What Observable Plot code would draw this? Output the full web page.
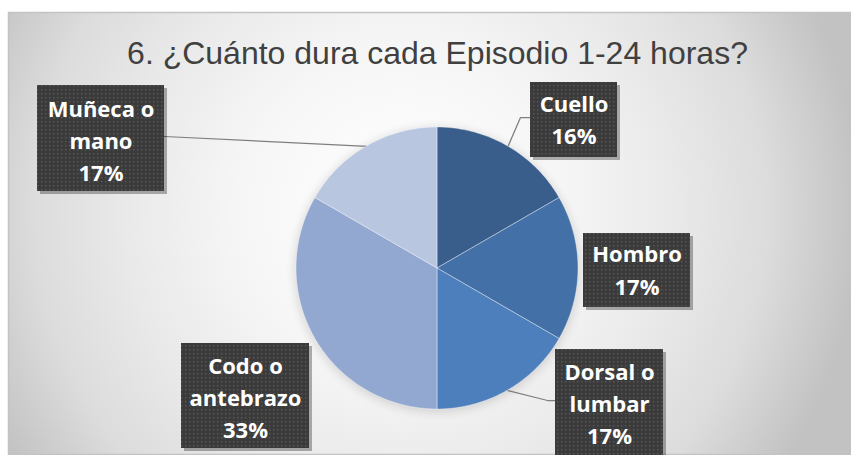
<!DOCTYPE html>
<html>
<head>
<meta charset="utf-8">
<script src="https://cdn.jsdelivr.net/npm/d3@7"></script>
<script src="https://cdn.jsdelivr.net/npm/@observablehq/plot@0.6"></script>
<style>
  html, body { margin: 0; padding: 0; background: #ffffff; }
  #chart svg { display: block; }
</style>
</head>
<body>
<div id="chart"></div>
<script>
// ---------- data ----------
const title = "6. ¿Cuánto dura cada Episodio 1-24 horas?";
const categories = ["Cuello", "Hombro", "Dorsal o lumbar", "Codo o antebrazo", "Muñeca o mano"];
const responses = [1, 1, 1, 2, 1];               // slice sizes (equal sixths, elbow = two sixths)
const percentLabels = ["16%", "17%", "17%", "33%", "17%"];
const labelLines = [["Cuello"], ["Hombro"], ["Dorsal o", "lumbar"], ["Codo o", "antebrazo"], ["Muñeca o", "mano"]];

// ---------- styles ----------
const sliceColors = ["#3A5E8C", "#4371A7", "#4C7FBC", "#93A8D0", "#B9C6E0"];

// ---------- layout (pixels) ----------
const W = 851, H = 455, CX = 437, CY = 268, R = 141;
const labelLayout = [
  {x1: 530, x2: 617, y1: 82,  y2: 157, ty: 117, leader: [[520, 117], [530, 117]]},
  {x1: 583, x2: 690, y1: 233, y2: 307, ty: 267.5, leader: null},
  {x1: 555, x2: 663, y1: 349, y2: 460, ty: 401, leader: [[547, 400], [555, 400]]},
  {x1: 181, x2: 309, y1: 343, y2: 448, ty: 395, leader: null},
  {x1: 37,  x2: 164, y1: 85,  y2: 191, ty: 138, leader: [[164, 136]]}
];
const ux = px => (px - CX) / R;
const uy = py => (CY - py) / R;

// ---------- derived marks data ----------
const rows = categories.map((c, i) => ({cat: c, value: responses[i], color: sliceColors[i]}));
const arcs = d3.pie().sort(null).value(d => d.value)(rows);

const slicePolys = [];
const leaderPts = [];
arcs.forEach((a, i) => {
  const cat = a.data.cat;
  const pts = [[0, 0]];
  const n = Math.max(2, Math.ceil((a.endAngle - a.startAngle) / (Math.PI / 180)));
  for (let k = 0; k <= n; k++) {
    const t = a.startAngle + (a.endAngle - a.startAngle) * k / n;
    pts.push([Math.sin(t), Math.cos(t)]);
  }
  slicePolys.push({cat, color: a.data.color, pts});
  const L = labelLayout[i];
  if (L.leader) {
    const m = (a.startAngle + a.endAngle) / 2;
    leaderPts.push({cat, x: Math.sin(m), y: Math.cos(m)});
    L.leader.forEach(([px, py]) => leaderPts.push({cat, x: ux(px), y: uy(py)}));
  }
});

const boxRows = categories.map((c, i) => {
  const L = labelLayout[i];
  return {
    cat: c,
    x1: ux(L.x1), x2: ux(L.x2), y1: uy(L.y1), y2: uy(L.y2),
    sx1: ux(L.x1 + 3), sx2: ux(L.x2 + 3), sy1: uy(L.y1 + 3), sy2: uy(L.y2 + 3),
    tx: ux((L.x1 + L.x2) / 2), ty: uy(L.ty),
    text: labelLines[i].concat([percentLabels[i]]).join("\n")
  };
});

// pie slices drawn through the plot's x / y scales
function pieMark(index, scales) {
  const grp = d3.create("svg:g").attr("aria-label", "pie");
  grp.append("circle")
    .attr("cx", scales.x(0)).attr("cy", scales.y(0) + 2)
    .attr("r", scales.x(1) - scales.x(0) + 2)
    .attr("fill", "#000").attr("fill-opacity", 0.12).attr("filter", "url(#soft)");
  for (const s of slicePolys) {
    grp.append("path")
      .attr("d", "M" + s.pts.map(([x, y]) => scales.x(x) + "," + scales.y(y)).join("L") + "Z")
      .attr("fill", s.color)
      .attr("stroke", "#ffffff").attr("stroke-opacity", 0.5).attr("stroke-width", 0.75)
      .attr("stroke-linejoin", "round");
  }
  return grp.node();
}

const chart = Plot.plot({
  width: W,
  height: H,
  margin: 0,
  x: {domain: [-1, 1], range: [CX - R, CX + R], axis: null},
  y: {domain: [-1, 1], range: [CY + R, CY - R], axis: null},
  style: {background: "#ffffff", overflow: "hidden"},
  marks: [
    Plot.frame({fill: "url(#bg)", stroke: "#c3c3c3", strokeWidth: 1.5, insetTop: 12, insetLeft: 8, insetBottom: 1, insetRight: -4}),
    Plot.text([{t: title, x: 0, y: uy(53)}], {
      x: "x", y: "y", text: "t", textAnchor: "middle",
      fontFamily: "Liberation Sans, Arial, sans-serif", fontSize: 32, fill: "#404040"
    }),
    Plot.line(leaderPts, {x: "x", y: "y", z: "cat", stroke: "#7f7f7f", strokeWidth: 1.25, curve: "linear"}),
    pieMark,
    Plot.rect(boxRows, {x1: "sx1", x2: "sx2", y1: "sy1", y2: "sy2", fill: "#000000", fillOpacity: 0.3, ariaLabel: "box shadow"}),
    Plot.rect(boxRows, {x1: "x1", x2: "x2", y1: "y1", y2: "y2", fill: "url(#dots)", ariaLabel: "label box"}),
    Plot.text(boxRows, {
      x: "tx", y: "ty", text: "text", textAnchor: "middle", lineAnchor: "middle", lineHeight: 1.47,
      fontFamily: "Open Sans, sans-serif", fontWeight: "bold", fontSize: 22, fill: "#ffffff"
    })
  ]
});

const svg = d3.select(chart);
const defs = svg.insert("defs", ":first-child");
const g = defs.append("radialGradient").attr("id", "bg").attr("gradientUnits", "userSpaceOnUse")
  .attr("cx", 400).attr("cy", 210).attr("r", 460);
[[0, "#ffffff"], [0.35, "#f6f6f6"], [0.6, "#e9e9e9"], [0.8, "#dcdcdc"], [1, "#c2c2c2"]]
  .forEach(([o, c]) => g.append("stop").attr("offset", o).attr("stop-color", c));
const p = defs.append("pattern").attr("id", "dots").attr("width", 4).attr("height", 4).attr("patternUnits", "userSpaceOnUse");
p.append("rect").attr("width", 4).attr("height", 4).attr("fill", "#3b3b3b");
p.append("rect").attr("x", 1).attr("y", 1).attr("width", 1.4).attr("height", 1.4).attr("fill", "#595959");
const fs = defs.append("filter").attr("id", "soft").attr("x", "-30%").attr("y", "-30%").attr("width", "160%").attr("height", "160%");
fs.append("feGaussianBlur").attr("stdDeviation", 4);
const fb = defs.append("filter").attr("id", "blur2").attr("x", "-20%").attr("y", "-20%").attr("width", "140%").attr("height", "140%");
fb.append("feGaussianBlur").attr("stdDeviation", 1.5);
svg.selectAll("g").filter(function () { return this.getAttribute("aria-label") === "box shadow"; })
  .attr("filter", "url(#blur2)");

document.getElementById("chart").appendChild(chart);
</script>
</body>
</html>
